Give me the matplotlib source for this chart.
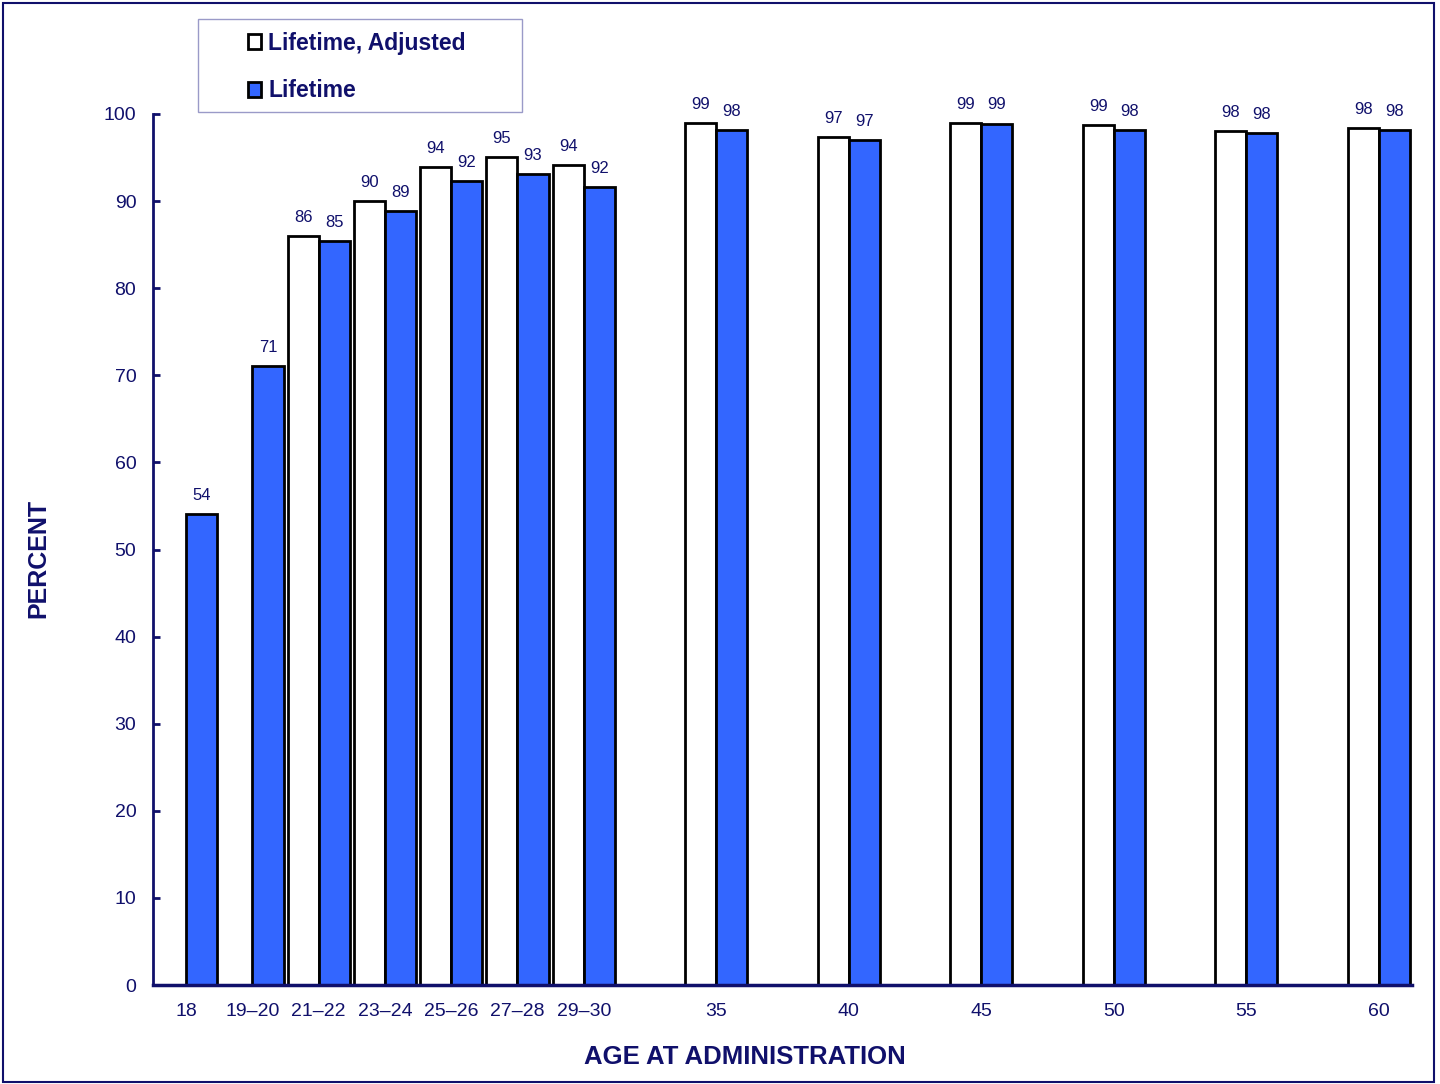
import numpy as np
import matplotlib
matplotlib.use('Agg')
import matplotlib.pyplot as plt
from matplotlib.patches import Patch, Rectangle

plt.rcParams['font.family'] = ['Liberation Sans', 'DejaVu Sans']

# data
ages = ['18', '19\u201320', '21\u201322', '23\u201324', '25\u201326', '27\u201328',
        '29\u201330', '35', '40', '45', '50', '55', '60']
slots = [0, 1, 2, 3, 4, 5, 6, 8, 10, 12, 14, 16, 18]
adjusted = [np.nan, np.nan, 86.0, 90.0, 93.9, 95.1, 94.1, 99.0, 97.4, 99.0, 98.7, 98.0, 98.4]
lifetime = [54.1, 71.1, 85.4, 88.9, 92.3, 93.1, 91.6, 98.2, 97.0, 98.9, 98.2, 97.8, 98.2]

navy = '#10106b'
blue = '#3366ff'

fig = plt.figure(figsize=(14.4, 10.84), dpi=100)
ax = fig.add_axes([153 / 1440, 1 - 985 / 1084, (1412 - 153) / 1440, (985 - 114) / 1084])

x = np.array(slots, dtype=float)
w = 0.47
ax.bar(x - w / 2, adjusted, width=w, color='white', edgecolor='black', linewidth=2, zorder=2)
ax.bar(x + w / 2, lifetime, width=w, color=blue, edgecolor='black', linewidth=2, zorder=2)

for xi, a, l in zip(x, adjusted, lifetime):
    if not np.isnan(a):
        ax.annotate(f'{a:.0f}', (xi - w / 2, a), xytext=(0, 8), textcoords='offset points',
                    ha='center', va='bottom', fontsize=12, color=navy)
    ax.annotate(f'{l:.0f}', (xi + w / 2, l), xytext=(0, 8), textcoords='offset points',
                ha='center', va='bottom', fontsize=12, color=navy)

ax.set_xlim(-0.5, 18.5)
ax.set_ylim(0, 100)
ax.set_yticks(range(0, 101, 10))
ax.set_xticks(slots)
ax.set_xticklabels(ages)
ax.tick_params(axis='x', length=0, pad=13, labelsize=14, labelcolor=navy)
ax.tick_params(axis='y', direction='in', length=5, width=2, color=navy, pad=12,
               labelsize=14, labelcolor=navy)
for s in ['top', 'right']:
    ax.spines[s].set_visible(False)
ax.spines['left'].set_color(navy)
ax.spines['left'].set_linewidth(2)
ax.spines['bottom'].set_color(navy)
ax.spines['bottom'].set_linewidth(2.5)
ax.spines['left'].set_zorder(3)
ax.spines['bottom'].set_zorder(3)

fig.text(38 / 1440, 1 - 558 / 1084, 'PERCENT', rotation=90, ha='center', va='center',
         fontsize=18, fontweight='bold', color=navy)
fig.text(745 / 1440, 1 - 1057 / 1084, 'AGE AT ADMINISTRATION', ha='center', va='center',
         fontsize=18.5, fontweight='bold', color=navy)

# legend box
fig.patches.append(Rectangle((198 / 1440, 1 - 112 / 1084), (522 - 198) / 1440, (112 - 19) / 1084,
                             transform=fig.transFigure, facecolor='white',
                             edgecolor='#9a9ac8', linewidth=1))
handles = [Patch(facecolor='white', edgecolor='black', linewidth=2, label='Lifetime, Adjusted'),
           Patch(facecolor=blue, edgecolor='black', linewidth=2, label='Lifetime')]
leg = fig.legend(handles=handles, loc='upper left', bbox_to_anchor=(227 / 1440, 1 - 11 / 1084),
                 frameon=False, handlelength=0.6, handleheight=0.6, handletextpad=0.3,
                 labelspacing=1.08, prop={'size': 16.5, 'weight': 'bold'})
for t in leg.get_texts():
    t.set_color(navy)

# outer border
fig.patches.append(Rectangle((3 / 1440, 2 / 1084), 1431 / 1440, 1079 / 1084,
                             transform=fig.transFigure, fill=False,
                             edgecolor=navy, linewidth=1.5))

fig.savefig('out.png', dpi=100)
